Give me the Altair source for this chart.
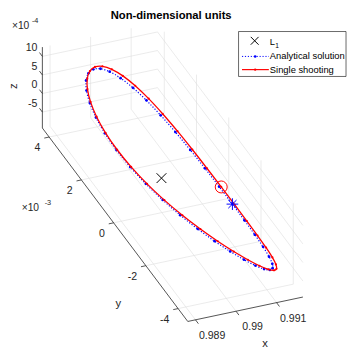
import altair as alt
import pandas as pd

# ---------------------------------------------------------------
# Values
# (x non-dimensional, y in units of 1e-3, z in units of 1e-4)
# ---------------------------------------------------------------
x_lim = [0.98881, 0.99165]
y_lim = [-4.60, 4.42]
z_lim = [-9.3, 12.5]

x_ticks = [0.989, 0.990, 0.991]
x_tick_labels = ["0.989", "0.99", "0.991"]
y_ticks = [-4, -2, 0, 2, 4]
y_tick_labels = ["-4", "-2", "0", "2", "4"]
z_ticks = [-5, 0, 5, 10]
z_tick_labels = ["-5", "0", "5", "10"]

# Single shooting orbit
shoot_x = [0.988897, 0.988926, 0.989012, 0.989151, 0.989335, 0.989555, 0.989801, 0.990062, 0.990327,
           0.990586, 0.990830, 0.991054, 0.991251, 0.991418, 0.991555, 0.991661, 0.991736, 0.991780,
           0.991795, 0.991780, 0.991736, 0.991661, 0.991555, 0.991418, 0.991251, 0.991054, 0.990830,
           0.990586, 0.990327, 0.990062, 0.989801, 0.989555, 0.989335, 0.989151, 0.989012, 0.988926]
shoot_y = [0.000, 0.795, 1.566, 2.290, 2.944, 3.508, 3.966, 4.304, 4.510,
           4.580, 4.510, 4.304, 3.966, 3.508, 2.944, 2.290, 1.566, 0.795,
           0.000, -0.795, -1.566, -2.290, -2.944, -3.508, -3.966, -4.304, -4.510,
           -4.580, -4.510, -4.304, -3.966, -3.508, -2.944, -2.290, -1.566, -0.795]
shoot_z = [10.18, 10.08, 9.77, 9.25, 8.51, 7.55, 6.35, 4.92, 3.29,
           1.48, -0.45, -2.44, -4.42, -6.29, -7.97, -9.38, -10.45, -11.11,
           -11.34, -11.11, -10.45, -9.38, -7.97, -6.29, -4.42, -2.44, -0.45,
           1.48, 3.29, 4.92, 6.35, 7.55, 8.51, 9.25, 9.77, 10.08]

# Analytical solution
anal_x = [0.988880, 0.988908, 0.988990, 0.989122, 0.989297, 0.989508, 0.989745, 0.989998, 0.990256,
          0.990510, 0.990752, 0.990976, 0.991175, 0.991347, 0.991488, 0.991598, 0.991677, 0.991724,
          0.991740, 0.991724, 0.991677, 0.991598, 0.991488, 0.991347, 0.991175, 0.990976, 0.990752,
          0.990510, 0.990256, 0.989998, 0.989745, 0.989508, 0.989297, 0.989122, 0.988990, 0.988908]
anal_y = [0.000, 0.785, 1.546, 2.260, 2.905, 3.462, 3.914, 4.247, 4.451,
          4.520, 4.451, 4.247, 3.914, 3.462, 2.905, 2.260, 1.546, 0.785,
          0.000, -0.785, -1.546, -2.260, -2.905, -3.462, -3.914, -4.247, -4.451,
          -4.520, -4.451, -4.247, -3.914, -3.462, -2.905, -2.260, -1.546, -0.785]
anal_z = [10.15, 10.04, 9.72, 9.18, 8.41, 7.42, 6.20, 4.76, 3.14,
          1.35, -0.54, -2.49, -4.40, -6.21, -7.83, -9.18, -10.20, -10.84,
          -11.05, -10.84, -10.20, -9.18, -7.83, -6.21, -4.40, -2.49, -0.54,
          1.35, 3.14, 4.76, 6.20, 7.42, 8.41, 9.18, 9.72, 10.04]

L1_point = [0.98999, 0.0, 0.0]
shoot_start = [0.99178, 0.795, -11.11]
anal_start = [0.99174, 0.0, -11.05]

legend_labels = ["L", "Analytical solution", "Single shooting"]
title_text = "Non-dimensional units"
axis_titles = ["x", "y", "z"]

# ---------------------------------------------------------------
# Orthographic view of the 3-D axes (page pixels)
# ---------------------------------------------------------------
X_REF = 0.99
ORIGIN = (165.5, 178.0)     # page pixel of (0.99, 0, 0)
EX = (41.5, -8.8)           # per 1e-3 in x
EY = (-16.5, -21.95)        # per 1e-3 in y
EZ = (0.0, -3.8)            # per 1e-4 in z


def project(x, y, z):
    X = (x - X_REF) * 1e3
    return (ORIGIN[0] + EX[0] * X + EY[0] * y + EZ[0] * z,
            ORIGIN[1] + EX[1] * X + EY[1] * y + EZ[1] * z)


W, H = 347, 345
FONT = "Liberation Sans"
xs = alt.Scale(domain=[8, 8 + W], nice=False, zero=False)
ys = alt.Scale(domain=[8, 8 + H], nice=False, zero=False, reverse=True)
X_ENC = dict(scale=xs, axis=None)
Y_ENC = dict(scale=ys, axis=None)


def seg_frame(segs):
    rows = []
    for a, b in segs:
        p1 = project(*a)
        p2 = project(*b)
        rows.append({"px": p1[0], "py": p1[1], "px2": p2[0], "py2": p2[1]})
    return pd.DataFrame(rows)


x0, x1 = x_lim
y0, y1 = y_lim
z0, z1 = z_lim

grid_segs = []
for xt in x_ticks:
    grid_segs.append(((xt, y0, z0), (xt, y1, z0)))
    grid_segs.append(((xt, y1, z0), (xt, y1, z1)))
for yt in y_ticks:
    grid_segs.append(((x0, yt, z0), (x1, yt, z0)))
    grid_segs.append(((x1, yt, z0), (x1, yt, z1)))
for zt in z_ticks:
    grid_segs.append(((x0, y1, zt), (x1, y1, zt)))
    grid_segs.append(((x1, y0, zt), (x1, y1, zt)))

axis_segs = [((x0, y0, z0), (x1, y0, z0)),
             ((x0, y0, z0), (x0, y1, z0)),
             ((x0, y1, z0), (x0, y1, z1))]
for xt in x_ticks:
    axis_segs.append(((xt, y0, z0), (xt, y0 - 0.18, z0)))
for yt in y_ticks:
    axis_segs.append(((x0, yt, z0), (x0 - 0.00012, yt, z0)))
for zt in z_ticks:
    axis_segs.append(((x0, y1, zt), (x0, y1 + 0.18, zt)))


def rule_layer(df, color, width):
    return alt.Chart(df).mark_rule(color=color, strokeWidth=width).encode(
        x=alt.X("px:Q", **X_ENC), y=alt.Y("py:Q", **Y_ENC), x2="px2:Q", y2="py2:Q")


def points_frame(xv, yv, zv, labels=None):
    rows = []
    for i, (a, b, c) in enumerate(zip(xv, yv, zv)):
        p = project(a, b, c)
        r = {"i": i, "px": p[0], "py": p[1]}
        if labels is not None:
            r["label"] = labels[i]
        rows.append(r)
    return pd.DataFrame(rows)


grid = rule_layer(seg_frame(grid_segs), "#dcdcdc", 0.6)
axes = rule_layer(seg_frame(axis_segs), "#262626", 0.8)

xt_df = points_frame(x_ticks, [y0] * len(x_ticks), [z0] * len(x_ticks), x_tick_labels)
yt_df = points_frame([x0] * len(y_ticks), y_ticks, [z0] * len(y_ticks), y_tick_labels)
zt_df = points_frame([x0] * len(z_ticks), [y1] * len(z_ticks), z_ticks, z_tick_labels)

TICK_FS = 10.8


def label_layer(df, align, dx, dy):
    return alt.Chart(df).mark_text(align=align, baseline="middle", dx=dx, dy=dy, font=FONT,
                                   fontSize=TICK_FS, color="#262626").encode(
        x=alt.X("px:Q", **X_ENC), y=alt.Y("py:Q", **Y_ENC), text="label:N")


xlab = label_layer(xt_df, "center", 17, 16.5)
ylab = label_layer(yt_df, "right", -9, 11.5)
zlab = label_layer(zt_df, "right", -5, -8.5)

anal_df = points_frame(anal_x, anal_y, anal_z)
shoot_df = points_frame(shoot_x, shoot_y, shoot_z)

anal_line = alt.Chart(anal_df).mark_line(color="#0000ff", strokeWidth=1.2, strokeDash=[1.2, 1.8],
                                         interpolate="cardinal-closed").encode(
    x=alt.X("px:Q", **X_ENC), y=alt.Y("py:Q", **Y_ENC), order="i:Q")
anal_pts = alt.Chart(anal_df).mark_point(color="#0000ff", filled=True, size=8, opacity=1).encode(
    x=alt.X("px:Q", **X_ENC), y=alt.Y("py:Q", **Y_ENC))
shoot_line = alt.Chart(shoot_df).mark_line(color="#ff0000", strokeWidth=1.3,
                                           interpolate="cardinal-closed").encode(
    x=alt.X("px:Q", **X_ENC), y=alt.Y("py:Q", **Y_ENC), order="i:Q")
shoot_pts = alt.Chart(shoot_df).mark_point(color="#ff0000", filled=True, size=5, opacity=1).encode(
    x=alt.X("px:Q", **X_ENC), y=alt.Y("py:Q", **Y_ENC))

XSHAPE = "M -1 -1 L 1 1 M -1 1 L 1 -1"
STAR = "M -1 0 L 1 0 M 0 -1 L 0 1 M -0.7 -0.7 L 0.7 0.7 M -0.7 0.7 L 0.7 -0.7"

l1 = alt.Chart(points_frame(*[[v] for v in L1_point])).mark_point(
    shape=XSHAPE, size=100, color="black", strokeWidth=1, filled=False, opacity=1).encode(
    x=alt.X("px:Q", **X_ENC), y=alt.Y("py:Q", **Y_ENC))
circ = alt.Chart(points_frame(*[[v] for v in shoot_start])).mark_point(
    shape="circle", size=150, color="#ff0000", strokeWidth=1, filled=False, opacity=1).encode(
    x=alt.X("px:Q", **X_ENC), y=alt.Y("py:Q", **Y_ENC))
star = alt.Chart(points_frame(*[[v] for v in anal_start])).mark_point(
    shape=STAR, size=144, color="#0000ff", strokeWidth=1, filled=False, opacity=1).encode(
    x=alt.X("px:Q", **X_ENC), y=alt.Y("py:Q", **Y_ENC))

one = pd.DataFrame({"k": [0]})


def ptext(text, x, y, size=10.0, bold=False, align="left", angle=0, color="#262626"):
    kw = dict(align=align, baseline="middle", font=FONT, fontSize=size, color=color,
              fontWeight="bold" if bold else "normal", text=text)
    if angle:
        kw["angle"] = angle
    return alt.Chart(one).mark_text(**kw).encode(x=alt.value(x), y=alt.value(y))


title = ptext(title_text, 167, 4.5, size=11.5, bold=True, align="center", color="black")
xt_title = ptext(axis_titles[0], 263, 340, size=11.5, align="center")
yt_title = ptext(axis_titles[1], 113, 299, size=11.5, align="center")
zt_title = ptext(axis_titles[2], 6.5, 76, size=11.5, align="center", angle=270)
zexp = ptext("\u00d710", 4, 14, size=10.5)
zexp2 = ptext("-4", 24.5, 9, size=7.5)
yexp = ptext("\u00d710", 14, 201, size=10.5)
yexp2 = ptext("-3", 37.5, 196, size=7.5)

# legend (pixel layout)
LEG_FS = 9.6
leg_box = alt.Chart(one).mark_rect(fill="white", stroke="black", strokeWidth=0.6).encode(
    x=alt.value(236), x2=alt.value(346), y=alt.value(20), y2=alt.value(66))
leg_x = alt.Chart(one).mark_point(shape=XSHAPE, size=64, color="black", strokeWidth=1,
                                  filled=False, opacity=1).encode(x=alt.value(252.5), y=alt.value(29.5))
leg_l = ptext(legend_labels[0], 268, 30.5, size=LEG_FS, color="black")
leg_l1 = ptext("1", 273.5, 34.5, size=6.8, color="black")
leg_a = ptext(legend_labels[1], 268, 45.5, size=LEG_FS, color="black")
leg_s = ptext(legend_labels[2], 268, 59, size=LEG_FS, color="black")
leg_aline = alt.Chart(one).mark_rule(color="#0000ff", strokeWidth=1, strokeDash=[1.2, 1.8]).encode(
    x=alt.value(239.5), x2=alt.value(267), y=alt.value(45.5))
leg_adot = alt.Chart(one).mark_point(color="#0000ff", filled=True, size=7, opacity=1).encode(
    x=alt.value(253), y=alt.value(45.5))
leg_sline = alt.Chart(one).mark_rule(color="#ff0000", strokeWidth=1.2).encode(
    x=alt.value(239.5), x2=alt.value(267), y=alt.value(59))
leg_sdot = alt.Chart(one).mark_point(color="#ff0000", filled=True, size=6, opacity=1).encode(
    x=alt.value(253), y=alt.value(59))

chart = alt.layer(
    grid, axes, xlab, ylab, zlab,
    anal_line, anal_pts, shoot_line, shoot_pts, l1, circ, star,
    title, xt_title, yt_title, zt_title, zexp, zexp2, yexp, yexp2,
    leg_box, leg_x, leg_l, leg_l1, leg_a, leg_s, leg_aline, leg_adot, leg_sline, leg_sdot,
).properties(width=W, height=H, padding=0, autosize="none").configure_view(stroke=None)

chart.save("out.html", embed_options={"renderer": "svg", "actions": False})
